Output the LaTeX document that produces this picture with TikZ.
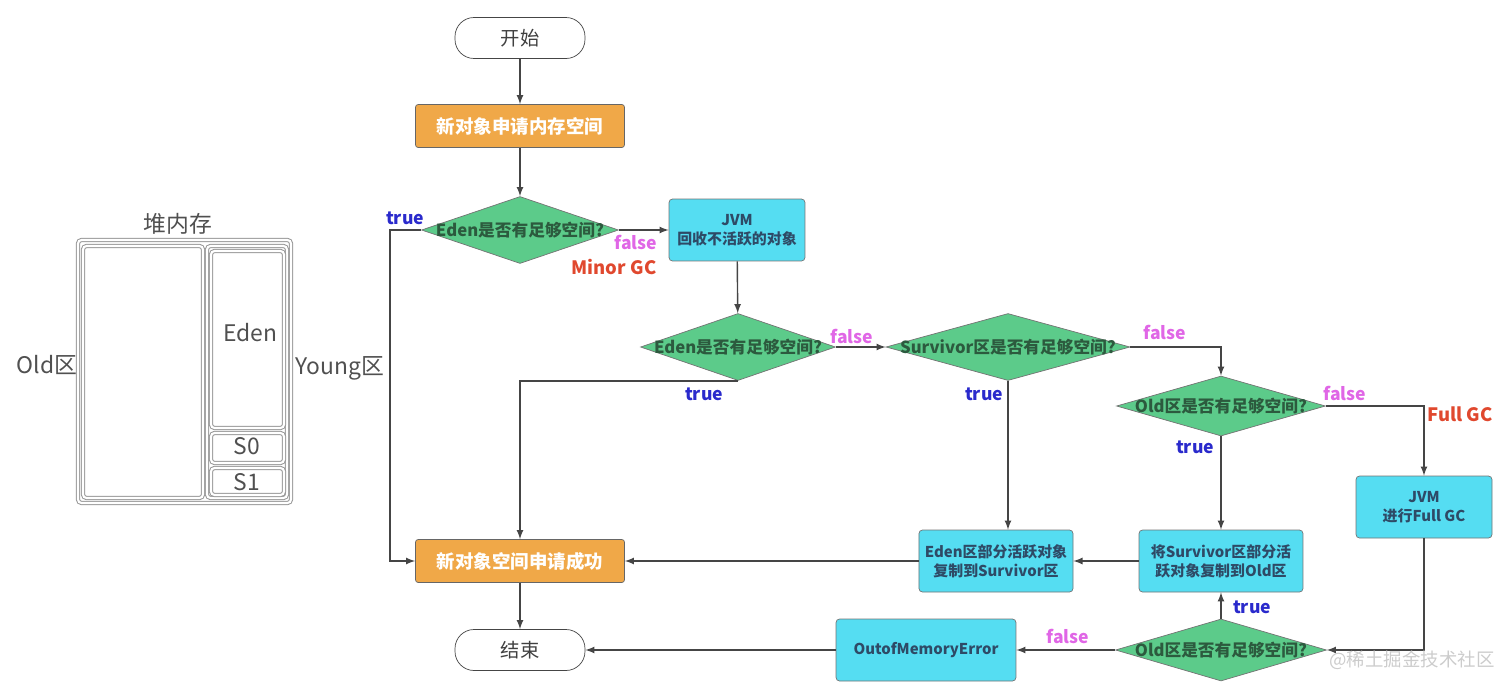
\documentclass[tikz,border=0pt]{standalone}
\usepackage{fontspec}
\setmainfont{Noto Sans CJK SC}
\usepackage{xcolor}
\usetikzlibrary{shapes.geometric, arrows, positioning}

\definecolor{boxorange}{HTML}{F0A848}
\definecolor{boxcyan}{HTML}{55DDF2}
\definecolor{diagreen}{HTML}{5CCB8A}
\definecolor{linegray}{HTML}{454545}
\definecolor{boxtext}{HTML}{2E4A66}
\definecolor{diatext}{HTML}{2C5A3E}
\definecolor{truecol}{HTML}{2A2ACC}
\definecolor{falsecol}{HTML}{E066E6}
\definecolor{gccol}{HTML}{E0482E}
\definecolor{heapgray}{HTML}{505050}

\begin{document}
\begin{tikzpicture}[
    x=0.02cm, y=-0.02cm,
    >=latex,
    terminal/.style={rectangle, rounded corners=0.38cm, draw=linegray, fill=white, minimum width=2.6cm, minimum height=0.82cm, text=black!75, font=\fontsize{11}{13}\selectfont},
    orangebox/.style={rectangle, rounded corners=1.5pt, draw=black!60, fill=boxorange, minimum width=4.18cm, minimum height=0.86cm, text=white, font=\bfseries\fontsize{10.5}{12}\selectfont},
    cyanbox/.style={rectangle, rounded corners=2pt, draw=black!55, fill=boxcyan, minimum width=2.72cm, minimum height=1.24cm, align=center, text=boxtext, font=\bfseries\fontsize{8.5}{11}\selectfont},
    decision/.style={diamond, draw=black!55, fill=diagreen, shape aspect=4, inner xsep=-1cm, inner ysep=0pt, minimum height=1.34cm, text=diatext, font=\bfseries\fontsize{9.5}{11}\selectfont},
    lbT/.style={text=truecol, font=\bfseries\fontsize{10}{12}\selectfont},
    lbF/.style={text=falsecol, font=\bfseries\fontsize{10}{12}\selectfont},
    lbG/.style={text=gccol, font=\bfseries\fontsize{10.5}{12}\selectfont},
    flow/.style={->, draw=linegray, line width=0.8pt},
    heap/.style={draw=gray!80, double=white, double distance=1.2pt, line width=0.6pt, rounded corners=2pt},
    heaptxt/.style={text=heapgray, font=\fontsize{13}{15}\selectfont}
]
\useasboundingbox (0,0) rectangle (1512,690);

% heap layout on the left
\node[heaptxt] (heaptitle) at (178,224) {堆内存};
\draw[heap] (78,240) rectangle (291,503);
\draw[heap] (83,246) rectangle (203,498);
\draw[heap] (207,246) rectangle (287,498);
\draw[heap] (211,251) rectangle (284,428);
\draw[heap] (211,433) rectangle (284,463);
\draw[heap] (211,468) rectangle (284,495);
\node[heaptxt] (edenlbl) at (250,333) {Eden};
\node[heaptxt] (s0lbl) at (247,446) {S0};
\node[heaptxt] (s1lbl) at (247,482) {S1};
\node[heaptxt] (oldlbl) at (47,365) {Old区};
\node[heaptxt] (younglbl) at (340,368) {Young区};

% flow nodes
\node[terminal] (start) at (520,38) {开始};
\node[orangebox] (apply) at (520,126) {新对象申请内存空间};
\node[decision, minimum width=3.94cm] (edenA) at (520,230) {Eden是否有足够空间?};
\node[cyanbox] (minor) at (737,230) {JVM\\回收不活跃的对象};
\node[decision, minimum width=3.9cm] (edenB) at (738,347) {Eden是否有足够空间?};
\node[decision, minimum width=4.88cm] (surv) at (1008,347) {Survivor区是否有足够空间?};
\node[decision, minimum width=4.18cm, minimum height=1.2cm] (oldA) at (1221,406) {Old区是否有足够空间?};
\node[cyanbox] (fullgc) at (1424,507) {JVM\\进行Full GC};
\node[cyanbox] (edencp) at (996,561) {Eden区部分活跃对象\\复制到Survivor区};
\node[cyanbox, minimum width=3.28cm] (survcp) at (1221,561) {将Survivor区部分活\\跃对象复制到Old区};
\node[orangebox] (ok) at (520,561) {新对象空间申请成功};
\node[terminal] (end) at (520,650) {结束};
\node[decision, minimum width=4.22cm, minimum height=1.24cm] (oldB) at (1221,650) {Old区是否有足够空间?};
\node[cyanbox, minimum width=3.6cm] (oom) at (926,650) {OutofMemoryError};

% connectors
\draw[flow] (start) -- (apply);
\draw[flow] (apply) -- (edenA);
\draw[flow] (edenA.west) -- ++(-31,0) |- (ok.west);
\draw[flow] (edenA) -- (minor);
\draw[flow] (minor) -- (edenB);
\draw[flow] (edenB) -- (surv);
\draw[flow] (edenB.south) -| (ok.north);
\draw[flow] (surv.east) -| (oldA.north);
\draw[flow] (surv.south) -- (surv.south |- edencp.north);
\draw[flow] (oldA.east) -| (fullgc.north);
\draw[flow] (oldA) -- (survcp);
\draw[flow] (survcp) -- (edencp);
\draw[flow] (edencp) -- (ok);
\draw[flow] (ok) -- (end);
\draw[flow] (fullgc.south) |- (oldB.east);
\draw[flow] (oldB) -- (survcp);
\draw[flow] (oldB) -- (oom);
\draw[flow] (oom) -- (end);

% branch labels
\node[lbT] (t1) at (405,218) {true};
\node[lbF] (f1) at (636,242) {false};
\node[lbG] (g1) at (614,267) {Minor GC};
\node[lbF] (f2) at (852,336) {false};
\node[lbT] (t2) at (704,394) {true};
\node[lbF] (f3) at (1165,332) {false};
\node[lbT] (t3) at (984,394) {true};
\node[lbF] (f4) at (1345,393) {false};
\node[lbG] (g2) at (1460,414) {Full GC};
\node[lbT] (t4) at (1195,447) {true};
\node[lbT] (t5) at (1252,607) {true};
\node[lbF] (f5) at (1068,636) {false};

\node[text=gray!40, font=\fontsize{10.5}{12}\selectfont] (mark) at (1412,660) {@稀土掘金技术社区};
\end{tikzpicture}
\end{document}
